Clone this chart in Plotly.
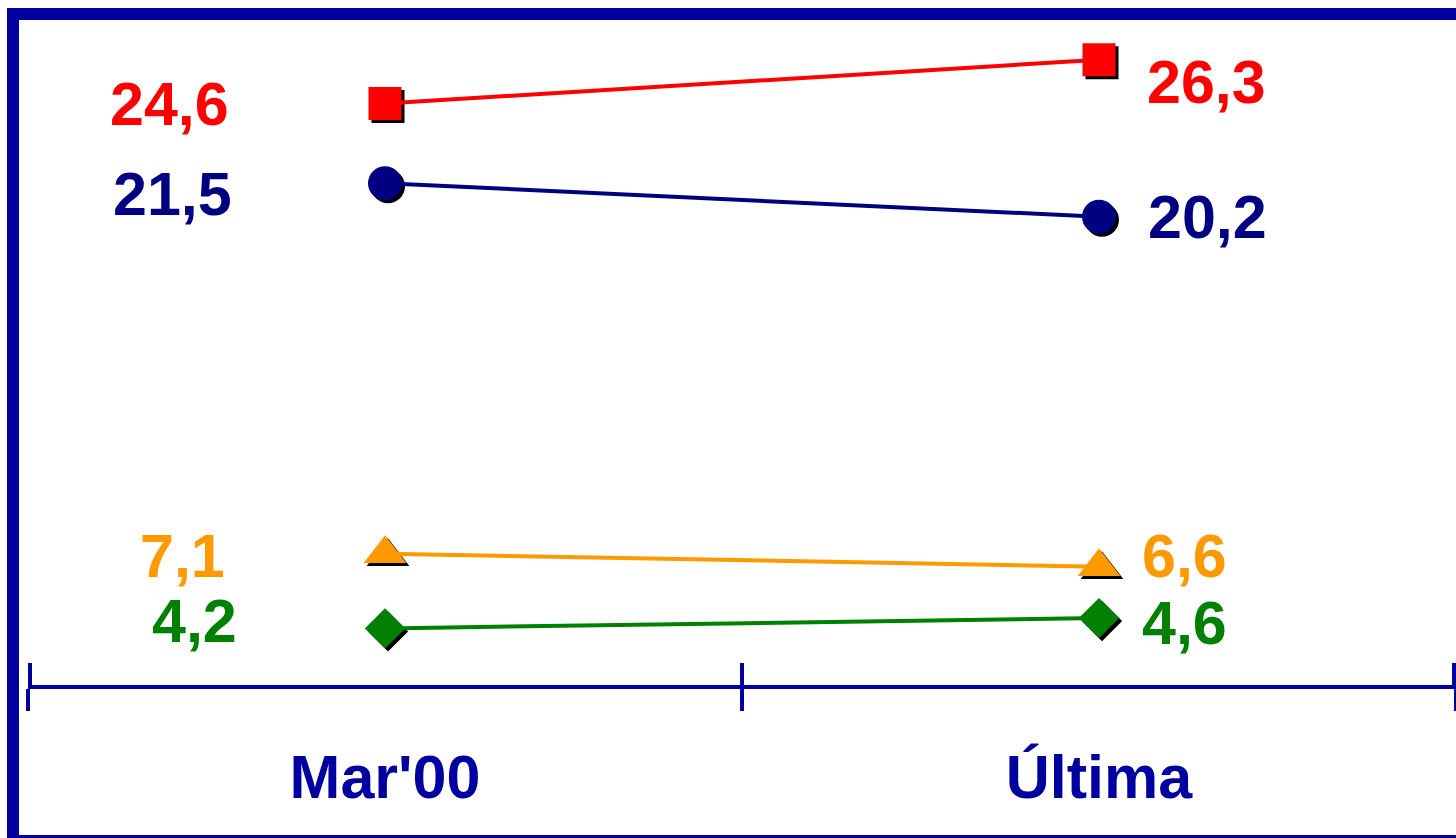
import plotly.graph_objects as go

# ---- data ----
periods = ["Mar'00", "Última"]
series_names = ["Serie A", "Serie B", "Serie C", "Serie D"]
serie_a = [24.6, 26.3]
serie_b = [21.5, 20.2]
serie_c = [7.1, 6.6]
serie_d = [4.2, 4.6]
label_a = ["24,6", "26,3"]
label_b = ["21,5", "20,2"]
label_c = ["7,1", "6,6"]
label_d = ["4,2", "4,6"]

# ---- styles ----
W, H = 1456, 838
ML, MR, MT, MB = 28, 0, 16, 153
Y_MIN, Y_MAX = 2, 28
AXIS_BLUE = "#0000A0"
FONT = "Liberation Sans, Arial, sans-serif"
FS = 61

styles = [
    dict(color="#FF0000", symbol="square", size=33, ldx=-154, ldy=-1, rdx=46, rdy=-22),
    dict(color="#000080", symbol="circle", size=34, ldx=-151, ldy=-11, rdx=47, rdy=0),
    dict(color="#FF9900", symbol="triangle-up", size=37, ldx=-158, ldy=-2, rdx=41, rdy=11),
    dict(color="#008000", symbol="diamond", size=31, ldx=-146, ldy=7, rdx=41, rdy=-5),
]
values = [serie_a, serie_b, serie_c, serie_d]
labels = [label_a, label_b, label_c, label_d]

plot_w = W - ML - MR
plot_h = H - MT - MB
cat_px = plot_w / len(periods)
px_per_y = plot_h / (Y_MAX - Y_MIN)
SH = 3  # shadow offset in px
dx = SH / cat_px
dy = SH / px_per_y
EPS = 2.0 / cat_px  # keep edge ticks just inside the plot area so they are drawn

fig = go.Figure()

# shadows (black copies) on the base axes, whose ranges are shifted by a few pixels
idx = list(range(len(periods)))
for vals, st in zip(values, styles):
    fig.add_trace(go.Scatter(
        x=idx, y=vals, mode="markers", xaxis="x", yaxis="y",
        marker=dict(symbol=st["symbol"], size=st["size"], color="black", line=dict(width=0)),
        hoverinfo="skip", showlegend=False,
    ))

# main series on the overlay axes (drawn above the shadows)
for name, vals, st in zip(series_names, values, styles):
    fig.add_trace(go.Scatter(
        x=periods, y=vals, mode="lines+markers", name=name, xaxis="x2", yaxis="y2",
        line=dict(color=st["color"], width=4),
        marker=dict(symbol=st["symbol"], size=st["size"], color=st["color"], line=dict(width=0)),
        showlegend=False,
    ))

annotations = []
for vals, labs, st in zip(values, labels, styles):
    annotations.append(dict(
        x=periods[0], y=vals[0], xref="x2", yref="y2", text=labs[0], showarrow=False,
        xanchor="right", yanchor="middle", xshift=st["ldx"], yshift=st["ldy"],
        font=dict(family=FONT, size=FS, color=st["color"], weight="bold"),
    ))
    annotations.append(dict(
        x=periods[1], y=vals[1], xref="x2", yref="y2", text=labs[1], showarrow=False,
        xanchor="left", yanchor="middle", xshift=st["rdx"], yshift=st["rdy"],
        font=dict(family=FONT, size=FS, color=st["color"], weight="bold"),
    ))

# outer frame
fx0 = (13 - ML) / plot_w
fx1 = (W + 6 - ML) / plot_w
fy1 = (H - MB - 14) / plot_h
fy0 = (H - MB - (H + 3)) / plot_h
shapes = [dict(type="rect", xref="paper", yref="paper", x0=fx0, x1=fx1, y0=fy0, y1=fy1,
               line=dict(color=AXIS_BLUE, width=12), fillcolor="rgba(0,0,0,0)", layer="above")]

n_bounds = len(periods) + 1
tick_bounds = [-0.5 - dx + i for i in range(n_bounds)]
tick_bounds[0] += EPS
tick_bounds[-1] -= EPS

fig.update_layout(
    width=W, height=H,
    margin=dict(l=ML, r=MR, t=MT, b=MB, pad=0),
    paper_bgcolor="white", plot_bgcolor="white",
    showlegend=False,
    # base axes: shifted ranges for the shadows, plus the upper half of the boundary ticks
    xaxis=dict(
        type="linear",
        range=[-0.5 - dx, len(periods) - 0.5 - dx],
        tickmode="array",
        tickvals=tick_bounds,
        ticks="inside", ticklen=22, tickwidth=4, tickcolor=AXIS_BLUE,
        showticklabels=False, showline=False, showgrid=False, zeroline=False,
    ),
    yaxis=dict(range=[Y_MIN + dy, Y_MAX + dy], visible=False, showgrid=False, zeroline=False),
    # overlay axes: real category axis with labels and lower half of ticks
    xaxis2=dict(
        overlaying="x", anchor="y2", side="bottom",
        type="category", categoryarray=periods, range=[-0.5, len(periods) - 0.5],
        tickson="boundaries", ticks="outside", ticklen=22, tickwidth=4, tickcolor=AXIS_BLUE,
        showline=True, linecolor=AXIS_BLUE, linewidth=4, showgrid=False, zeroline=False,
        tickfont=dict(family=FONT, size=FS, color=AXIS_BLUE, weight="bold"),
        ticklabelstandoff=36,
    ),
    yaxis2=dict(overlaying="y", anchor="x2", range=[Y_MIN, Y_MAX],
                visible=False, showgrid=False, zeroline=False),
    annotations=annotations,
    shapes=shapes,
)

fig.write_html("out.html", config={"displayModeBar": False},
               post_script="document.body.style.margin='0';document.body.style.overflow='hidden';")
